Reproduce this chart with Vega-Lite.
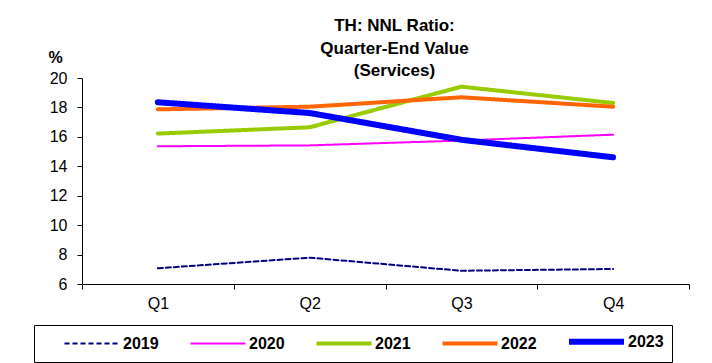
{
  "$schema": "https://vega.github.io/schema/vega-lite/v6.json",
  "width": 607,
  "height": 206,
  "autosize": {"type": "none"},
  "padding": {"left": 82, "top": 78, "right": 23, "bottom": 79},
  "background": "white",
  "config": {
    "view": {"stroke": null},
    "font": "Liberation Sans",
    "legend": {
      "title": null,
      "orient": "none",
      "direction": "horizontal",
      "legendX": -48,
      "legendY": 247,
      "strokeColor": "black",
      "padding": 8,
      "symbolType": "M-5,0H5",
      "symbolSize": 121,
      "symbolOffset": 42,
      "labelFontSize": 16,
      "labelFontWeight": "bold",
      "labelColor": "black",
      "labelOffset": 23,
      "columnPadding": 9,
      "labelFont": "Liberation Sans"
    }
  },
  "title": {
    "text": ["TH: NNL Ratio:", "Quarter-End Value", "(Services)"],
    "fontSize": 17,
    "fontWeight": "bold",
    "font": "Liberation Sans",
    "color": "black",
    "lineHeight": 22.5,
    "frame": "group",
    "anchor": "middle",
    "dx": 9,
    "offset": -31
  },
  "data": {
    "values": [
      {"year": "2019", "quarter": "Q1", "value": 7.07},
      {"year": "2019", "quarter": "Q2", "value": 7.79},
      {"year": "2019", "quarter": "Q3", "value": 6.9},
      {"year": "2019", "quarter": "Q4", "value": 7.02},
      {"year": "2020", "quarter": "Q1", "value": 15.36},
      {"year": "2020", "quarter": "Q2", "value": 15.42},
      {"year": "2020", "quarter": "Q3", "value": 15.75},
      {"year": "2020", "quarter": "Q4", "value": 16.15},
      {"year": "2021", "quarter": "Q1", "value": 16.22},
      {"year": "2021", "quarter": "Q2", "value": 16.65},
      {"year": "2021", "quarter": "Q3", "value": 19.41},
      {"year": "2021", "quarter": "Q4", "value": 18.3},
      {"year": "2022", "quarter": "Q1", "value": 17.87},
      {"year": "2022", "quarter": "Q2", "value": 18.05},
      {"year": "2022", "quarter": "Q3", "value": 18.69},
      {"year": "2022", "quarter": "Q4", "value": 18.05},
      {"year": "2023", "quarter": "Q1", "value": 18.35},
      {"year": "2023", "quarter": "Q2", "value": 17.62},
      {"year": "2023", "quarter": "Q3", "value": 15.8},
      {"year": "2023", "quarter": "Q4", "value": 14.61}
    ]
  },
  "mark": {"type": "line", "strokeCap": "round", "strokeJoin": "round"},
  "encoding": {
    "x": {
      "field": "quarter",
      "type": "ordinal",
      "bandPosition": 0.5,
      "scale": {"type": "band", "paddingInner": 0, "paddingOuter": 0},
      "axis": {
        "title": null,
        "labelAngle": 0,
        "tickBand": "extent",
        "domainColor": "black",
        "tickColor": "black",
        "tickSize": 5,
        "labelFontSize": 16,
        "labelColor": "black",
        "labelPadding": 6,
        "labelFont": "Liberation Sans"
      }
    },
    "y": {
      "field": "value",
      "type": "quantitative",
      "scale": {"domain": [6, 20], "nice": false, "zero": false},
      "axis": {
        "values": [6, 8, 10, 12, 14, 16, 18, 20],
        "grid": false,
        "title": "%",
        "titleAngle": 0,
        "titleX": -27,
        "titleY": -16,
        "titleAlign": "center",
        "titleBaseline": "alphabetic",
        "titleFontSize": 16,
        "titleFontWeight": "bold",
        "titleColor": "black",
        "domainColor": "black",
        "tickColor": "black",
        "tickSize": 5,
        "labelFontSize": 16,
        "labelColor": "black",
        "labelPadding": 10,
        "labelFont": "Liberation Sans"
      }
    },
    "color": {
      "field": "year",
      "type": "nominal",
      "scale": {
        "domain": ["2019", "2020", "2021", "2022", "2023"],
        "range": ["#000080", "#ff00ff", "#99cc00", "#ff6600", "#0000ff"]
      },
      "legend": {"title": null}
    },
    "strokeWidth": {
      "field": "year",
      "type": "nominal",
      "scale": {
        "type": "ordinal",
        "domain": ["2019", "2020", "2021", "2022", "2023"],
        "range": [2, 2, 4, 4, 6]
      },
      "legend": {"title": null}
    },
    "strokeDash": {
      "field": "year",
      "type": "nominal",
      "scale": {
        "domain": ["2019", "2020", "2021", "2022", "2023"],
        "range": [[5, 3], [1, 0], [1, 0], [1, 0], [1, 0]]
      },
      "legend": {"title": null}
    }
  }
}
